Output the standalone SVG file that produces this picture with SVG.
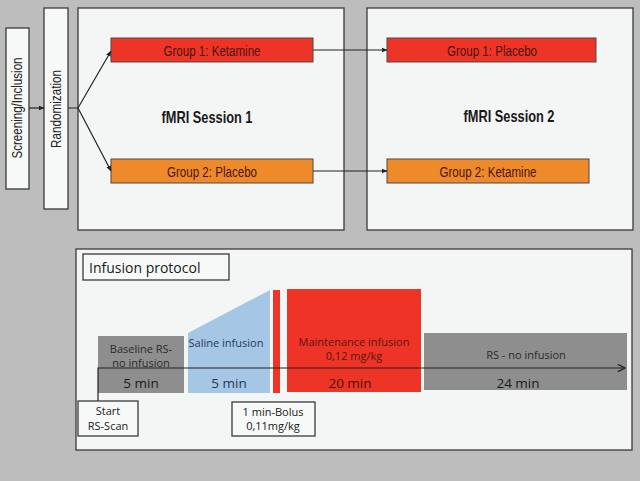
<svg xmlns="http://www.w3.org/2000/svg" width="640" height="481" viewBox="0 0 640 481">
<style>
.panel{fill:#f4f5f5;stroke:#3a3a3a;stroke-width:1.3}
.wbox{fill:#f7f8f8;stroke:#3a3a3a;stroke-width:1.3}
.red{fill:#ee3427;stroke:#4a4a4a;stroke-width:1}
.org{fill:#ee8a2a;stroke:#4a4a4a;stroke-width:1}
.top{font-family:"Liberation Sans Narrow","Liberation Sans",Arial,sans-serif;font-size:14px;text-anchor:middle}
.gt{fill:#4a1410}
.head{font-family:"Liberation Sans",Arial,sans-serif;font-size:16.5px;font-weight:bold;text-anchor:middle;fill:#1a1a1a}
.cal{font-family:"Open Sans","Noto Sans",sans-serif;text-anchor:middle}
.conn{fill:none;stroke:#222;stroke-width:1.2}
</style>
<defs>
<marker id="ah" viewBox="0 0 10 10" refX="9" refY="5" markerWidth="6" markerHeight="6" orient="auto" markerUnits="userSpaceOnUse">
<path d="M0,1 L10,5 L0,9 z" fill="#222"/>
</marker>
<marker id="oa" viewBox="0 0 10 10" refX="9" refY="5" markerWidth="9" markerHeight="9" orient="auto" markerUnits="userSpaceOnUse">
<path d="M1,1 L9,5 L1,9" fill="none" stroke="#222" stroke-width="1.4"/>
</marker>
</defs>
<rect width="640" height="481" fill="#bdbdbd"/>

<g id="screening">
<rect class="wbox" x="6" y="28" width="23" height="161"/>
<text class="top" transform="translate(22,108) rotate(-90)" fill="#222" textLength="101" lengthAdjust="spacingAndGlyphs">Screening/Inclusion</text>
</g>
<g id="randomization">
<rect class="wbox" x="44" y="8" width="24" height="201"/>
<text class="top" transform="translate(61,109) rotate(-90)" fill="#222" textLength="78" lengthAdjust="spacingAndGlyphs">Randomization</text>
</g>
<g id="session1">
<rect class="panel" x="78" y="8" width="266" height="222"/>
<text class="head" x="207" y="123" textLength="91" lengthAdjust="spacingAndGlyphs">fMRI Session 1</text>
</g>
<g id="session2">
<rect class="panel" x="367" y="8" width="266" height="222"/>
<text class="head" x="509" y="122" textLength="91" lengthAdjust="spacingAndGlyphs">fMRI Session 2</text>
</g>
<g id="g1ket">
<rect class="red" x="111" y="38" width="202" height="24"/>
<text class="top gt" x="212" y="56" textLength="97" lengthAdjust="spacingAndGlyphs">Group 1: Ketamine</text>
</g>
<g id="g2pla">
<rect class="org" x="111" y="159" width="202" height="24"/>
<text class="top gt" x="212" y="177" textLength="90" lengthAdjust="spacingAndGlyphs">Group 2: Placebo</text>
</g>
<g id="g1pla">
<rect class="red" x="387" y="38" width="209" height="24"/>
<text class="top gt" x="492" y="56" textLength="90" lengthAdjust="spacingAndGlyphs">Group 1: Placebo</text>
</g>
<g id="g2ket">
<rect class="org" x="387" y="159" width="202" height="24"/>
<text class="top gt" x="488" y="177" textLength="97" lengthAdjust="spacingAndGlyphs">Group 2: Ketamine</text>
</g>

<g id="connectors">
<line class="conn" x1="29" y1="108" x2="44" y2="108" marker-end="url(#ah)"/>
<path class="conn" d="M68,108 H78 L111,51" marker-end="url(#ah)"/>
<path class="conn" d="M78,108 L111,171" marker-end="url(#ah)"/>
<line class="conn" x1="313" y1="50" x2="387" y2="50" marker-end="url(#ah)"/>
<line class="conn" x1="313" y1="171" x2="387" y2="171" marker-end="url(#ah)"/>
</g>

<g id="infusion">
<rect class="panel" x="76" y="249" width="556" height="201"/>
<rect class="wbox" x="83" y="254" width="146" height="26"/>
<text class="cal" x="89" y="273" font-size="14" style="text-anchor:start" fill="#1a1a1a">Infusion protocol</text>

<g id="baseline">
<rect x="98" y="336" width="86" height="57" fill="#8e8e8e"/>
<text class="cal" x="141" y="353" font-size="11" fill="#2a2a2a">Baseline RS-</text>
<text class="cal" x="141" y="367" font-size="11" fill="#2a2a2a">no infusion</text>
<text class="cal" x="141" y="388" font-size="13.5" fill="#1a1a1a">5 min</text>
</g>
<g id="saline">
<polygon points="188,333 270,290 270,393 188,393" fill="#a6c6e6"/>
<text class="cal" x="226" y="347" font-size="11" fill="#1f3a5a">Saline infusion</text>
<text class="cal" x="229" y="388" font-size="13.5" fill="#1f3a5a">5 min</text>
</g>
<g id="bolus">
<rect x="273" y="290" width="7" height="103" fill="#ee3427"/>
</g>
<g id="maintenance">
<rect x="287" y="289" width="134" height="103" fill="#ee3427"/>
<text class="cal" x="354" y="346" font-size="11" fill="#5a1410">Maintenance infusion</text>
<text class="cal" x="354" y="360" font-size="11" fill="#5a1410">0,12 mg/kg</text>
<text class="cal" x="350" y="388" font-size="13.5" fill="#4a1010">20 min</text>
</g>
<g id="rsno">
<rect x="424" y="333" width="203" height="57" fill="#8e8e8e"/>
<text class="cal" x="526" y="359" font-size="11" fill="#2a2a2a">RS - no infusion</text>
<text class="cal" x="518" y="388" font-size="13.5" fill="#1a1a1a">24 min</text>
</g>
<g id="timeline">
<path class="conn" d="M98,401 V368 H625" marker-end="url(#oa)"/>
</g>
<g id="start">
<rect class="wbox" x="78" y="401" width="60" height="35"/>
<text class="cal" x="108" y="415" font-size="11" fill="#1a1a1a">Start</text>
<text class="cal" x="108" y="430" font-size="11" fill="#1a1a1a">RS-Scan</text>
</g>
<g id="bolusbox">
<rect class="wbox" x="232" y="402" width="83" height="34"/>
<text class="cal" x="273" y="416" font-size="11" fill="#1a1a1a">1 min-Bolus</text>
<text class="cal" x="273" y="430" font-size="11" fill="#1a1a1a">0,11mg/kg</text>
</g>
</g>
</svg>
